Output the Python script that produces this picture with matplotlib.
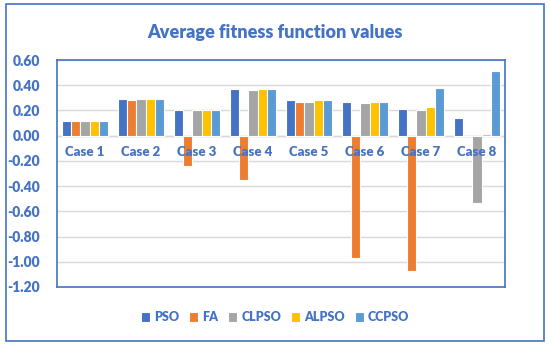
import matplotlib
matplotlib.use("Agg")
import matplotlib.pyplot as plt
import numpy as np
from matplotlib.patches import Rectangle

# ── データ ──────────────────────────────────────────────
cases = ['Case 1', 'Case 2', 'Case 3', 'Case 4', 'Case 5', 'Case 6', 'Case 7', 'Case 8']
methods = ['PSO', 'FA', 'CLPSO', 'ALPSO', 'CCPSO']
pso   = [0.12, 0.29, 0.20, 0.37, 0.28, 0.27, 0.21, 0.14]
fa    = [0.12, 0.28, -0.24, -0.35, 0.27, -0.97, -1.07, 0.00]
clpso = [0.12, 0.29, 0.20, 0.36, 0.27, 0.26, 0.20, -0.53]
alpso = [0.12, 0.29, 0.20, 0.37, 0.28, 0.27, 0.23, 0.01]
ccpso = [0.12, 0.29, 0.20, 0.37, 0.28, 0.27, 0.38, 0.51]
yticks = [0.60, 0.40, 0.20, 0.00, -0.20, -0.40, -0.60, -0.80, -1.00, -1.20]

colors = ['#4472C4', '#ED7D31', '#A5A5A5', '#FFC000', '#5B9BD5']
BLUE = '#4472C4'
plt.rcParams['font.family'] = ['Lato', 'DejaVu Sans']
W = 'heavy'

fig = plt.figure(figsize=(5.5, 3.45), dpi=100, facecolor='white')
# 外枠
fig.patches.append(Rectangle((0.011, 0.012), 0.978, 0.976, transform=fig.transFigure,
                             fill=False, edgecolor=BLUE, linewidth=1.2))

ax = fig.add_axes([57 / 550, 1 - 287 / 345, 448 / 550, 227 / 345])
x = np.arange(len(cases))
slot = 0.165
for k, (name, vals) in enumerate(zip(methods, [pso, fa, clpso, alpso, ccpso])):
    ax.bar(x + (k - 2) * slot, vals, width=slot, color=colors[k],
           edgecolor='white', linewidth=0.8, label=name, zorder=3)

ax.set_xlim(-0.5, len(cases) - 0.5)
ax.set_ylim(-1.2, 0.6)
ax.set_yticks(yticks)
ax.set_yticklabels([f'{v:.2f}' for v in yticks], fontsize=10,
                   fontweight=W, color=BLUE)
ax.set_xticks([])
ax.tick_params(axis='y', length=0, pad=12)
ax.grid(axis='y', color='#D9D9D9', linewidth=1, zorder=0)
ax.axhline(0, color='#D9D9D9', linewidth=1, zorder=1)
for s in ax.spines.values():
    s.set_color(BLUE)
    s.set_linewidth(1.2)

for i, c in enumerate(cases):
    ax.text(i, -0.08, c, ha='center', va='top', fontsize=9.5,
            fontweight=W, color=BLUE, zorder=4)

fig.text(0.5, 0.905, 'Average fitness function values', ha='center', va='center',
         fontsize=13, fontweight=W, color=BLUE)

leg = fig.legend(loc='center', bbox_to_anchor=(0.5, 0.08), ncol=5, frameon=False,
                 fontsize=9, handlelength=0.75, handleheight=0.75, handletextpad=0.3,
                 columnspacing=0.8)
for t in leg.get_texts():
    t.set_color(BLUE)
    t.set_fontweight(W)

fig.savefig('out.png', dpi=100, facecolor='white')
